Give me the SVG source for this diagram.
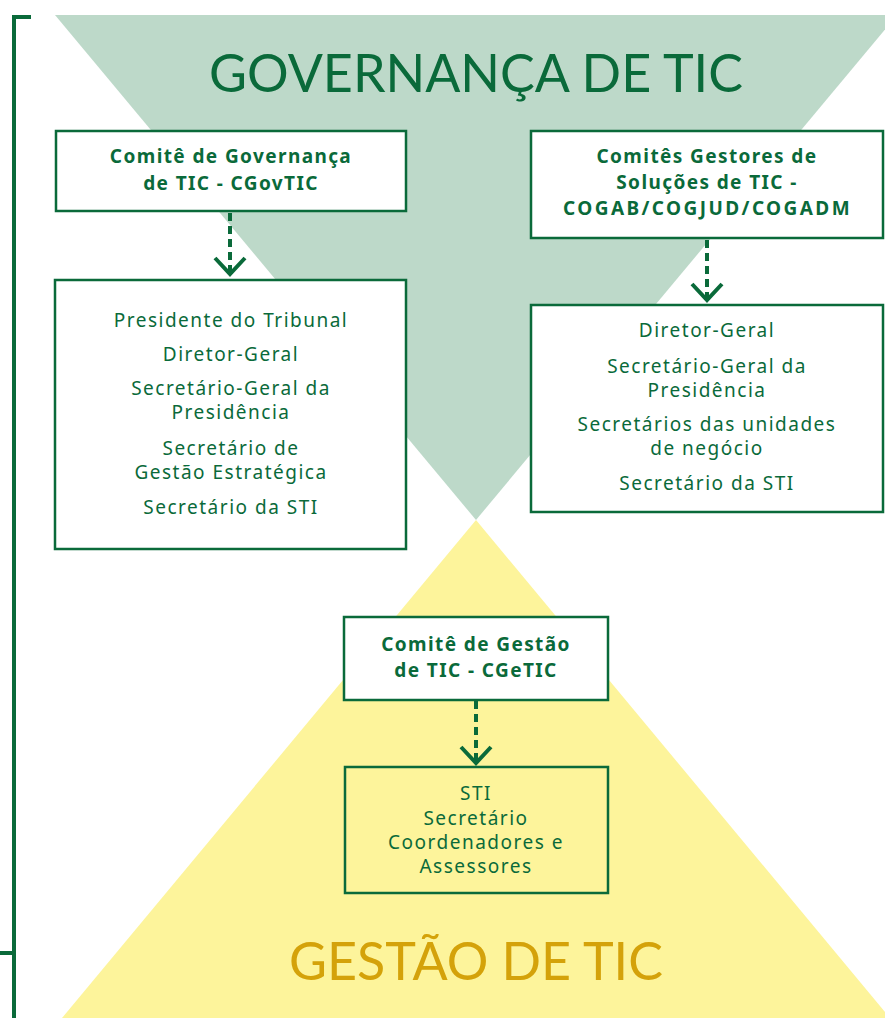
<svg xmlns="http://www.w3.org/2000/svg" width="885" height="1018" viewBox="0 0 885 1018">
<style>
.box{fill:#fff;stroke:#0a6a3a;stroke-width:2.5}
.boxn{fill:none;stroke:#0a6a3a;stroke-width:2.5}
.t{font-family:"Noto Sans",sans-serif;font-size:19px;letter-spacing:1.5px;fill:#0a6a3a;text-anchor:middle}
.b{font-weight:bold;font-size:19px;letter-spacing:1.4px}
.title{font-family:Lato,"Noto Sans",sans-serif;font-size:52px;text-anchor:middle}
.dash{stroke:#0a6a3a;stroke-width:4;stroke-dasharray:8 5;fill:none}
.chev{stroke:#0a6a3a;stroke-width:4;fill:none}
</style>
<rect width="885" height="1018" fill="#fff"/>
<polygon points="55,15 897,15 476,520" fill="#bdd9c9"/>
<polygon points="476,520 890,1018 62,1018" fill="#fdf49b"/>
<g id="bracket" stroke="#0a6a3a" stroke-width="4" fill="none">
<polyline points="31,17 14,17 14,1018"/>
<line x1="0" y1="953" x2="14" y2="953"/>
</g>
<text class="title" x="476" y="92" fill="#0a6a3a">GOVERNANÇA DE TIC</text>
<text class="title" x="476" y="980" fill="#d4a20a">GESTÃO DE TIC</text>
<g id="connectors">
<line class="dash" x1="230" y1="213" x2="230" y2="272"/>
<polyline class="chev" points="215,258 230,274 245,258"/>
<line class="dash" x1="707" y1="240" x2="707" y2="298"/>
<polyline class="chev" points="692,284 707,300 722,284"/>
<line class="dash" x1="476" y1="701" x2="476" y2="761"/>
<polyline class="chev" points="461,747 476,763 491,747"/>
</g>
<g id="cgovtic">
<rect class="box" x="56" y="131" width="350" height="80"/>
<text class="t b" x="231" y="163">Comitê de Governança</text>
<text class="t b" x="231" y="190">de TIC - CGovTIC</text>
</g>
<g id="comites-gestores">
<rect class="box" x="531" y="131" width="352" height="107"/>
<text class="t b" x="707" y="163">Comitês Gestores de</text>
<text class="t b" x="707" y="189">Soluções de TIC -</text>
<text class="t b" x="563" y="215" textLength="288" lengthAdjust="spacing" style="text-anchor:start">COGAB/COGJUD/COGADM</text>
</g>
<g id="membros-cgovtic">
<rect class="box" x="55" y="280" width="351" height="269"/>
<text class="t" x="231" y="327">Presidente do Tribunal</text>
<text class="t" x="231" y="361">Diretor-Geral</text>
<text class="t" x="231" y="395">Secretário-Geral da</text>
<text class="t" x="231" y="419">Presidência</text>
<text class="t" x="231" y="455">Secretário de</text>
<text class="t" x="231" y="479">Gestão Estratégica</text>
<text class="t" x="231" y="514">Secretário da STI</text>
</g>
<g id="membros-comites">
<rect class="box" x="531" y="305" width="352" height="207"/>
<text class="t" x="707" y="337">Diretor-Geral</text>
<text class="t" x="707" y="373">Secretário-Geral da</text>
<text class="t" x="707" y="397">Presidência</text>
<text class="t" x="707" y="431">Secretários das unidades</text>
<text class="t" x="707" y="455">de negócio</text>
<text class="t" x="707" y="490">Secretário da STI</text>
</g>
<g id="cgetic">
<rect class="box" x="344" y="617" width="264" height="83"/>
<text class="t b" x="476" y="651">Comitê de Gestão</text>
<text class="t b" x="476" y="677">de TIC - CGeTIC</text>
</g>
<g id="sti">
<rect class="boxn" x="345" y="767" width="263" height="126"/>
<text class="t" x="476" y="800">STI</text>
<text class="t" x="476" y="825">Secretário</text>
<text class="t" x="476" y="849">Coordenadores e</text>
<text class="t" x="476" y="873">Assessores</text>
</g>
</svg>
